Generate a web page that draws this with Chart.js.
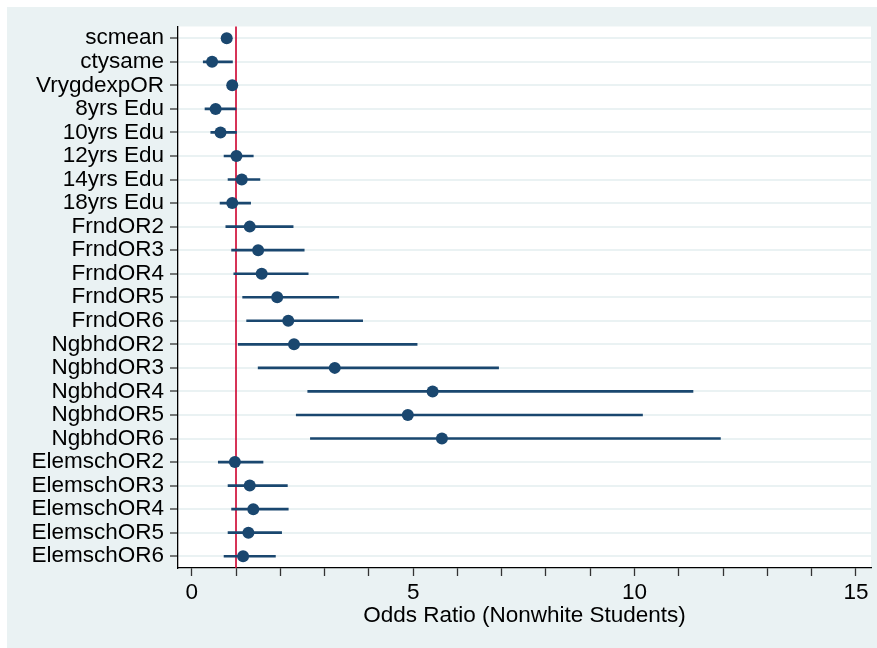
<!DOCTYPE html>
<html>
<head>
<meta charset="utf-8">
<script src="https://cdn.jsdelivr.net/npm/chart.js@4/dist/chart.umd.min.js"></script>
<style>
    body { margin: 0; background: #ffffff; }
    #panel { position: absolute; left: 7px; top: 7px; width: 870px; height: 641px; background: #eaf2f3; }
</style>
</head>
<body>
<div id="panel"><canvas id="forest" width="870" height="641"></canvas></div>
<script>
// rows of the forest plot, top to bottom
const labels = ["scmean", "ctysame", "VrygdexpOR", "8yrs Edu", "10yrs Edu", "12yrs Edu", "14yrs Edu", "18yrs Edu",
    "FrndOR2", "FrndOR3", "FrndOR4", "FrndOR5", "FrndOR6",
    "NgbhdOR2", "NgbhdOR3", "NgbhdOR4", "NgbhdOR5", "NgbhdOR6",
    "ElemschOR2", "ElemschOR3", "ElemschOR4", "ElemschOR5", "ElemschOR6"];

// odds ratios and confidence interval bounds
const oddsRatio = [0.79, 0.46, 0.915, 0.54, 0.65, 1.01, 1.13, 0.915,
    1.31, 1.50, 1.58, 1.93, 2.18,
    2.31, 3.23, 5.44, 4.88, 5.65,
    0.975, 1.31, 1.39, 1.28, 1.16];
const ciLow = [0.72, 0.26, 0.85, 0.30, 0.43, 0.73, 0.82, 0.64,
    0.77, 0.90, 0.95, 1.15, 1.24,
    1.05, 1.50, 2.62, 2.36, 2.68,
    0.60, 0.82, 0.90, 0.82, 0.73];
const ciHigh = [0.86, 0.92, 0.98, 1.00, 1.01, 1.39, 1.54, 1.33,
    2.29, 2.54, 2.63, 3.32, 3.86,
    5.09, 6.93, 11.32, 10.18, 11.94,
    1.61, 2.16, 2.18, 2.03, 1.89];

const xTicks = [0, 1, 2, 3, 4, 5, 6, 7, 8, 9, 10, 11, 12, 13, 14, 15];
const refLine = 1;

const navy = "#1a476f";
const fontFamily = "'Liberation Sans', Arial, sans-serif";

// white plot region + vertical reference line at OR = 1 (under the markers)
const plotDecor = {
    id: "plotDecor",
    beforeDraw(chart) {
        const { ctx, chartArea } = chart;
        ctx.save();
        ctx.fillStyle = "#ffffff";
        ctx.fillRect(chartArea.left, chartArea.top, chartArea.right - chartArea.left, chartArea.bottom - chartArea.top);
        ctx.restore();
    },
    beforeDatasetsDraw(chart) {
        const { ctx, chartArea, scales } = chart;
        const x = scales.x.getPixelForValue(refLine);
        ctx.save();
        ctx.strokeStyle = "#d0103a";
        ctx.lineWidth = 1.7;
        ctx.beginPath();
        ctx.moveTo(x, chartArea.top);
        ctx.lineTo(x, chartArea.bottom);
        ctx.stroke();
        ctx.restore();
    }
};

new Chart(document.getElementById("forest"), {
    type: "bar",
    data: {
        labels: labels,
        datasets: [
            {
                type: "line",
                label: "OR",
                data: oddsRatio,
                showLine: false,
                pointRadius: 6,
                pointBackgroundColor: navy,
                pointBorderWidth: 0,
                order: 0
            },
            {
                label: "CI",
                data: labels.map((l, i) => [ciLow[i], ciHigh[i]]),
                backgroundColor: navy,
                borderWidth: 0,
                barThickness: 2,
                order: 1
            }
        ]
    },
    options: {
        indexAxis: "y",
        responsive: false,
        animation: false,
        layout: { padding: { top: 17, right: 4, bottom: 0, left: 0 } },
        plugins: { legend: { display: false }, tooltip: { enabled: false } },
        scales: {
            x: {
                type: "linear",
                min: -0.31,
                max: 15.34,
                afterBuildTicks: scale => { scale.ticks = xTicks.map(v => ({ value: v })); },
                afterFit: scale => { scale.height = 80; },
                ticks: {
                    autoSkip: false,
                    maxRotation: 0,
                    padding: 3,
                    color: "#000",
                    font: { family: fontFamily, size: 22.5 },
                    callback: v => (v % 5 === 0 ? v : "")
                },
                grid: { drawOnChartArea: false, drawTicks: true, tickLength: 8, tickColor: "#333", tickWidth: 1.3 },
                border: { display: true, color: "#000", width: 1.3 },
                title: {
                    display: true,
                    text: "Odds Ratio (Nonwhite Students)",
                    color: "#000",
                    font: { family: fontFamily, size: 22.5 },
                    padding: { top: 0, bottom: 19 }
                }
            },
            y: {
                afterFit: scale => { scale.width = 171; },
                ticks: {
                    autoSkip: false,
                    padding: 6,
                    color: "#000",
                    font: { family: fontFamily, size: 22.5 }
                },
                grid: { offset: false, color: "#eaf2f3", lineWidth: 2, tickLength: 8, tickColor: "#333", tickWidth: 1.3 },
                border: { display: true, color: "#000", width: 1.3 }
            }
        }
    },
    plugins: [plotDecor]
});
</script>
</body>
</html>
